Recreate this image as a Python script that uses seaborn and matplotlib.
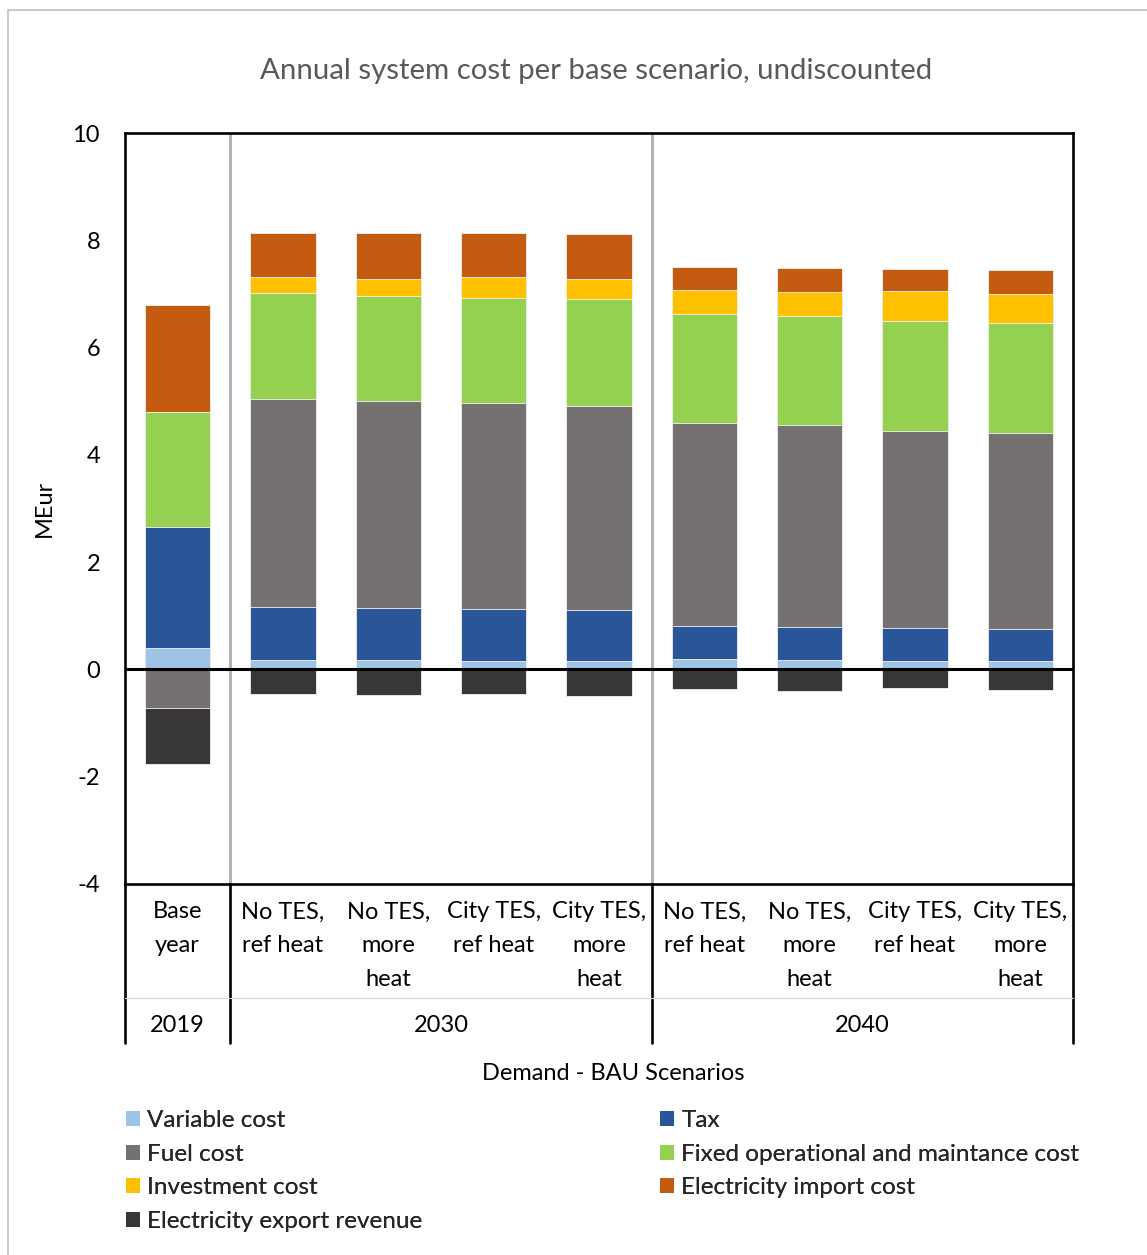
import numpy as np
import pandas as pd
import matplotlib
matplotlib.use("Agg")
import matplotlib.pyplot as plt
import matplotlib.transforms as mtransforms
from matplotlib.patches import Patch, Rectangle
from matplotlib.lines import Line2D
import seaborn as sns

# ---- data (MEur) -----------------------------------------------------------
scenarios = ["Base\nyear",
             "No TES,\nref heat", "No TES,\nmore\nheat",
             "City TES,\nref heat", "City TES,\nmore\nheat",
             "No TES,\nref heat", "No TES,\nmore\nheat",
             "City TES,\nref heat", "City TES,\nmore\nheat"]
years = ["2019", "2030", "2040"]
year_spans = [(0, 0), (1, 4), (5, 8)]

variable_cost = [0.40, 0.17, 0.17, 0.15, 0.15, 0.19, 0.17, 0.16, 0.15]
tax = [2.26, 0.99, 0.97, 0.97, 0.95, 0.62, 0.62, 0.61, 0.61]
fuel_cost = [-0.72, 3.88, 3.86, 3.84, 3.82, 3.78, 3.76, 3.68, 3.65]
fixed_om_cost = [2.14, 1.98, 1.97, 1.97, 1.99, 2.04, 2.03, 2.04, 2.05]
investment_cost = [0.00, 0.30, 0.30, 0.38, 0.37, 0.45, 0.45, 0.57, 0.54]
import_cost = [1.99, 0.82, 0.86, 0.82, 0.84, 0.42, 0.46, 0.41, 0.45]
export_revenue = [-1.05, -0.46, -0.48, -0.46, -0.49, -0.37, -0.41, -0.35, -0.38]

series_names = ["Variable cost", "Tax", "Fuel cost",
                "Fixed operational and maintance cost", "Investment cost",
                "Electricity import cost", "Electricity export revenue"]
colors = {"Variable cost": "#9DC3E6", "Tax": "#2A5599", "Fuel cost": "#767171",
          "Fixed operational and maintance cost": "#95D150",
          "Investment cost": "#FFC000", "Electricity import cost": "#C55A11",
          "Electricity export revenue": "#393736"}

# ---- style -----------------------------------------------------------------
sns.set_theme(style="white")
plt.rcParams["font.family"] = ["Lato", "DejaVu Sans"]
plt.rcParams["axes.unicode_minus"] = False
FS = 17

W, H = 1147, 1255
fig = plt.figure(figsize=(W / 100, H / 100), dpi=100)
ax = fig.add_axes([125 / W, 1 - 884 / H, (1073 - 125) / W, (884 - 133) / H])

ids = [f"s{i}" for i in range(len(scenarios))]
df = pd.DataFrame({"id": ids,
                   "Variable cost": variable_cost, "Tax": tax,
                   "Fuel cost": fuel_cost,
                   "Fixed operational and maintance cost": fixed_om_cost,
                   "Investment cost": investment_cost,
                   "Electricity import cost": import_cost,
                   "Electricity export revenue": export_revenue})

pos_layers = ["Variable cost", "Tax", "Fuel cost",
              "Fixed operational and maintance cost", "Investment cost",
              "Electricity import cost"]
neg_layers = ["Fuel cost", "Electricity export revenue"]

pos = df[pos_layers].clip(lower=0).cumsum(axis=1)
neg = df[neg_layers].clip(upper=0).cumsum(axis=1)

bar_kw = dict(order=ids, width=0.62, saturation=1, edgecolor="#F2F2F2",
              linewidth=0.6, ax=ax, zorder=2)

# stacked segments: draw cumulative totals from the outermost layer inwards
for name in reversed(pos_layers):
    sns.barplot(x=df["id"], y=pos[name], color=colors[name], **bar_kw)
for name in reversed(neg_layers):
    sns.barplot(x=df["id"], y=neg[name], color=colors[name], **bar_kw)

ax.set_xlim(-0.5, len(ids) - 0.5)
ax.set_ylim(-4, 10)
ax.set_yticks(np.arange(-4, 11, 2))
ax.tick_params(axis="y", length=0, pad=18, labelsize=FS, labelcolor="black")
ax.set_xticks([])
ax.set_xlabel("")
ax.set_ylabel("MEur", fontsize=FS, color="black")
ax.yaxis.set_label_coords((55 - 125) / (1073 - 125), 0.5)
for sp in ax.spines.values():
    sp.set_color("black")
    sp.set_linewidth(1.9)

ax.axhline(0, color="black", lw=2.2, zorder=3)
for xs in (0.5, 4.5):
    ax.axvline(xs, color="#B3B3B3", lw=2.2, zorder=1)

# ---- category table below the axes -----------------------------------------
tr = mtransforms.blended_transform_factory(ax.transData, fig.transFigure)
fy = lambda py: 1 - py / H

for x, lab in enumerate(scenarios):
    for k, line in enumerate(lab.split("\n")):
        fig.text(x, fy(912 + 34 * k), line, transform=tr, ha="center",
                 va="center", fontsize=FS, color="black")
for yr, (a, b) in zip(years, year_spans):
    fig.text((a + b) / 2, fy(1025), yr, transform=tr, ha="center",
             va="center", fontsize=FS, color="black")

for xs in (-0.5, 0.5, 4.5, len(ids) - 0.5):
    fig.add_artist(Line2D([xs, xs], [fy(884), fy(1043)], transform=tr,
                          color="black", lw=1.9))
fig.add_artist(Line2D([-0.5, len(ids) - 0.5], [fy(998), fy(998)],
                      transform=tr, color="#D9D9D9", lw=0.8))

fig.text(613 / W, fy(1074), "Demand - BAU Scenarios", ha="center",
         va="center", fontsize=FS, color="black")

fig.text(596 / W, fy(71), "Annual system cost per base scenario, undiscounted",
         ha="center", va="center", fontsize=21.2, color="#595959")

# ---- legend (two columns) --------------------------------------------------
handles = {n: Patch(facecolor=colors[n], edgecolor="none") for n in series_names}
col1 = ["Variable cost", "Fuel cost", "Investment cost",
        "Electricity export revenue"]
col2 = ["Tax", "Fixed operational and maintance cost", "Electricity import cost"]
leg_kw = dict(frameon=False, fontsize=17.5, handlelength=0.58,
              handleheight=0.58, handletextpad=0.3, labelspacing=0.52,
              borderpad=0, borderaxespad=0, loc="upper left")
for cols, x0 in ((col1, 126), (col2, 660)):
    leg = fig.legend([handles[n] for n in cols], cols,
                     bbox_to_anchor=(x0 / W, fy(1110)), **leg_kw)
    fig.add_artist(leg)

# outer chart border
fig.add_artist(Rectangle((8 / W, -0.05), 1.2, 1 - 10 / H + 0.05,
                         transform=fig.transFigure, fill=False,
                         edgecolor="#BFBFBF", lw=1.2))

fig.savefig("out.png", dpi=100)
